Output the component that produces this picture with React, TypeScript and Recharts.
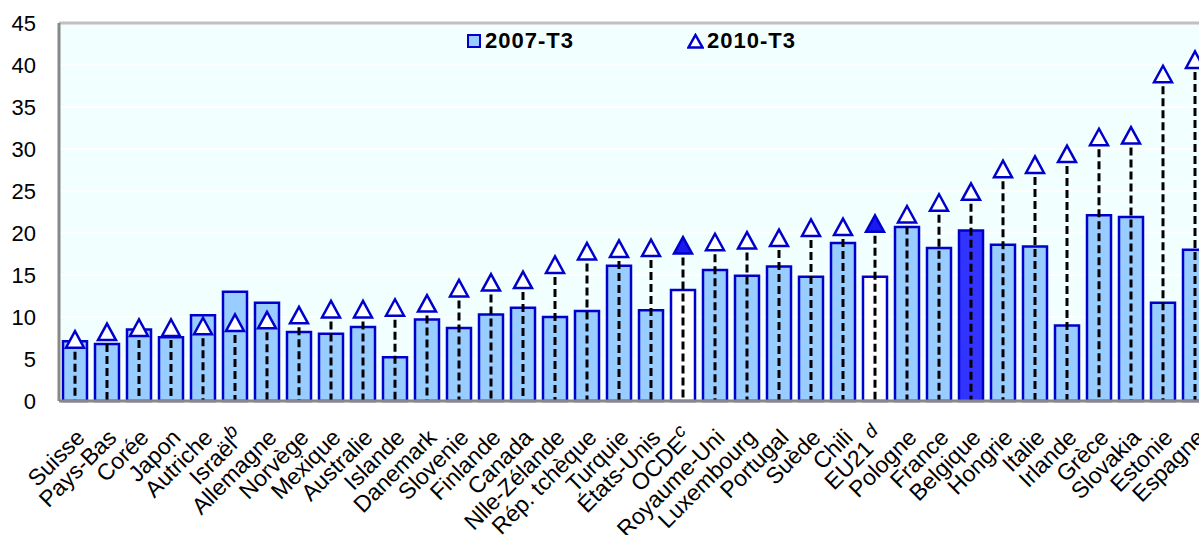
import React from "react";
import {
  ComposedChart,
  Bar,
  Cell,
  Scatter,
  XAxis,
  YAxis,
  CartesianGrid,
  ReferenceLine,
  Legend,
} from "recharts";

const categories = [
  "Suisse", "Pays-Bas", "Corée", "Japon", "Autriche", "Israël", "Allemagne", "Norvège",
  "Mexique", "Australie", "Islande", "Danemark", "Slovenie", "Finlande", "Canada",
  "Nlle-Zélande", "Rép. tchèque", "Turquie", "États-Unis", "OCDE", "Royaume-Uni",
  "Luxembourg", "Portugal", "Suède", "Chili", "EU21", "Pologne", "France", "Belgique",
  "Hongrie", "Italie", "Irlande", "Grèce", "Slovakia", "Estonie", "Espagne",
];

// footnote letters shown after some labels
const notes: Record<string, string> = { "Israël": "b", OCDE: "c", EU21: " d" };

const v2007 = [
  7.1, 6.8, 8.5, 7.6, 10.2, 13.0, 11.7, 8.2, 8.0, 8.8, 5.2, 9.7, 8.7, 10.3, 11.1, 10.0,
  10.7, 16.1, 10.8, 13.2, 15.6, 14.9, 16.0, 14.8, 18.8, 14.8, 20.7, 18.2, 20.3, 18.6,
  18.4, 9.0, 22.1, 21.9, 11.7, 18.0,
];

const v2010 = [
  7.3, 8.2, 8.7, 8.7, 8.9, 9.3, 9.6, 10.2, 10.9, 10.9, 11.1, 11.6, 13.4, 14.1, 14.4, 16.2,
  17.8, 18.1, 18.2, 18.5, 18.9, 19.1, 19.4, 20.6, 20.7, 21.1, 22.2, 23.6, 24.9, 27.6,
  28.1, 29.4, 31.4, 31.6, 38.9, 40.6,
];

const yTicks = [0, 5, 10, 15, 20, 25, 30, 35, 40, 45];

const FONT = "'Liberation Sans', Arial, sans-serif";
const BLUE = "#0000CC";
const BAR_FILL = "#99CCFF";
const barFills: Record<string, string> = { OCDE: "#FFFFFF", EU21: "#FFFFFF", Belgique: "#3333FF" };
const solidMarkers = ["OCDE", "EU21"];

const data = categories.map((name, i) => ({ name, v2007: v2007[i], v2010: v2010[i] }));

function CountryTick(props: any) {
  const { x, y, payload } = props;
  const note = notes[payload.value];
  const bx = x + 11;
  const by = y + 36;
  return (
    <text
      x={bx}
      y={by}
      transform={`rotate(-45, ${bx}, ${by})`}
      textAnchor="end"
      fontSize={23}
      fontFamily={FONT}
      fill="#000"
    >
      {payload.value}
      {note && (
        <tspan fontStyle="italic" fontSize={19} dy={-10}>
          {note}
        </tspan>
      )}
    </text>
  );
}

// dashed drop line from zero up to the 2010 value
function DropLine(props: any) {
  const { x, y, width, height } = props;
  const cx = x + width / 2;
  return (
    <line x1={cx} x2={cx} y1={y} y2={y + height} stroke="#000" strokeWidth={3} strokeDasharray="8 4" />
  );
}

function Triangle(props: any) {
  const { cx, cy, payload } = props;
  const solid = solidMarkers.includes(payload.name);
  return (
    <path
      d={`M${cx},${cy - 8.5} L${cx + 9},${cy + 8} L${cx - 9},${cy + 8} Z`}
      fill={solid ? "#1A1AEE" : "#FFFFFF"}
      stroke={BLUE}
      strokeWidth={2.5}
    />
  );
}

function LegendBox() {
  return (
    <div style={{ display: "flex", alignItems: "center", fontFamily: FONT, fontWeight: "bold", fontSize: 22, letterSpacing: 1 }}>
      <span style={{ width: 10, height: 10, background: BAR_FILL, border: `2.5px solid ${BLUE}`, display: "inline-block" }} />
      <span style={{ marginLeft: 4 }}>2007-T3</span>
      <svg width={17} height={16} style={{ marginLeft: 113 }}>
        <path d="M8.5,2 L15.5,14.5 L1.5,14.5 Z" fill="#fff" stroke={BLUE} strokeWidth={2.5} />
      </svg>
      <span style={{ marginLeft: 3 }}>2010-T3</span>
    </div>
  );
}

export default function App() {
  return (
    <div style={{ position: "absolute", left: 0, top: 0, width: 1199, height: 535, overflow: "hidden", background: "#fff" }}>
      <ComposedChart
        width={1230}
        height={535}
        data={data}
        margin={{ top: 23, right: 19, bottom: 0, left: 0 }}
        barGap={0}
      >
        <CartesianGrid vertical={false} fill="#F2FFFF" stroke="#FFFFFF" strokeWidth={2} />
        <XAxis
          xAxisId="a"
          dataKey="name"
          interval={0}
          tick={<CountryTick />}
          tickLine={false}
          tickSize={0}
          axisLine={{ stroke: "#888", strokeWidth: 3 }}
          height={134}
        />
        <XAxis xAxisId="b" dataKey="name" hide />
        <YAxis
          domain={[0, 45]}
          ticks={yTicks}
          interval={0}
          width={59}
          tickLine={false}
          tickSize={0}
          tickMargin={23}
          axisLine={{ stroke: "#888", strokeWidth: 3 }}
          tick={{ fontSize: 22, fontFamily: FONT, fill: "#000" }}
        />
        <ReferenceLine xAxisId="a" y={45} stroke="#C0C0C0" strokeWidth={3} />
        <Legend
          layout="horizontal"
          verticalAlign="middle"
          align="center"
          content={<LegendBox />}
          wrapperStyle={{ top: 28, left: 467, width: "auto" }}
        />
        <Bar xAxisId="a" dataKey="v2007" name="2007-T3" barSize={24} stroke={BLUE} strokeWidth={2.5} isAnimationActive={false}>
          {data.map((d) => (
            <Cell key={d.name} fill={barFills[d.name] ?? BAR_FILL} />
          ))}
        </Bar>
        <Bar xAxisId="b" dataKey="v2010" barSize={24} shape={<DropLine />} isAnimationActive={false} legendType="none" />
        <Scatter xAxisId="a" dataKey="v2010" name="2010-T3" shape={<Triangle />} isAnimationActive={false} />
      </ComposedChart>
    </div>
  );
}
